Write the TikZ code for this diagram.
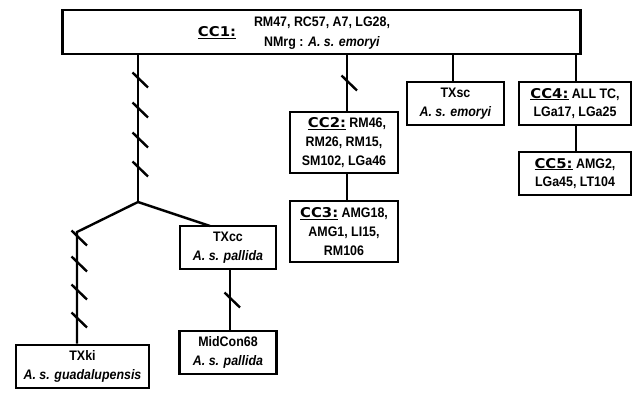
\documentclass[tikz,border=0pt]{standalone}
\usepackage{fontspec}
\setmainfont[FakeStretch=0.9]{Liberation Sans}
\newfontfamily\ccfont[FakeStretch=1.1]{DejaVu Sans}
\newcommand\cclab[1]{\underline{{\ccfont\bfseries\fontsize{13.5}{14}\selectfont #1}}}
\begin{document}
\begin{tikzpicture}[x=1pt,y=-1pt,
  box/.style={draw, line width=2.6pt, inner sep=0pt, align=center,
    font=\bfseries\fontsize{13.8}{18.8}\selectfont},
  txt/.style={inner sep=0pt, align=center, font=\bfseries\fontsize{13.8}{20}\selectfont},
  conn/.style={line width=2.4pt},
  tickmark/.pic={\draw[line width=2.4pt] (-5.5,-5.5) -- (10,9.5);}]
\useasboundingbox (0,0) rectangle (635,393);
% boxes
\node[box, minimum width=518pt, minimum height=44pt] (cc1) at (321.5,32) {};
\node[txt] (cc1lab) at (217,33) {\cclab{CC1:}};
\node[txt] (cc1txt) at (322,33) {RM47, RC57, A7, LG28,\\NMrg : \textit{A. s. emoryi}};
\node[box, minimum width=108pt, minimum height=61pt] (cc2) at (344,142.5) {\hspace{6pt}\cclab{CC2:} RM46,\\RM26, RM15,\\SM102, LGa46};
\node[box, minimum width=108pt, minimum height=61pt] (cc3) at (344,231.5) {\cclab{CC3:} AMG18,\\AMG1, LI15,\\RM106};
\node[box, minimum width=97pt, minimum height=43pt] (txsc) at (455.5,103.5) {TXsc\\\textit{A. s. emoryi}};
\node[box, minimum width=112pt, minimum height=43pt] (cc4) at (575,103.5) {\cclab{CC4:} ALL TC,\\LGa17, LGa25};
\node[box, minimum width=112pt, minimum height=43pt] (cc5) at (575,173.5) {\cclab{CC5:} AMG2,\\LGa45, LT104};
\node[box, minimum width=96pt, minimum height=43pt] (txcc) at (228,247.5) {TXcc\\\textit{A. s. pallida}};
\node[box, minimum width=97pt, minimum height=43pt] (midcon) at (228,352.5) {MidCon68\\\textit{A. s. pallida}};
\node[box, minimum width=133pt, minimum height=43pt] (txki) at (82.5,366.5) {TXki\\\textit{A. s. guadalupensis}};
% branch points
\coordinate (br) at (138,202);
\coordinate (lb) at (77,232);
\coordinate (rb) at (210,226);
% connectors
\draw[conn] (cc1.south -| br) -- (br);
\draw[conn] (br) -- (lb) -- (lb |- txki.north);
\draw[conn] (br) -- (rb);
\draw[conn] (txcc.south -| 230,0) -- (midcon.north -| 230,0);
\draw[conn] (cc1.south -| 347,0) -- (cc2.north -| 347,0);
\draw[conn] (cc2.south -| 347,0) -- (cc3.north -| 347,0);
\draw[conn] (cc1.south -| 453,0) -- (txsc.north -| 453,0);
\draw[conn] (cc1.south -| 576,0) -- (cc4.north -| 576,0);
\draw[conn] (cc4.south -| 576,0) -- (cc5.north -| 576,0);
% tick marks
\foreach \y in {78,108,138,167} \pic at (138,\y) {tickmark};
\foreach \y in {236,262,290,318} \pic at (77,\y) {tickmark};
\pic at (347,81) {tickmark};
\pic at (230,298) {tickmark};
\end{tikzpicture}
\end{document}
